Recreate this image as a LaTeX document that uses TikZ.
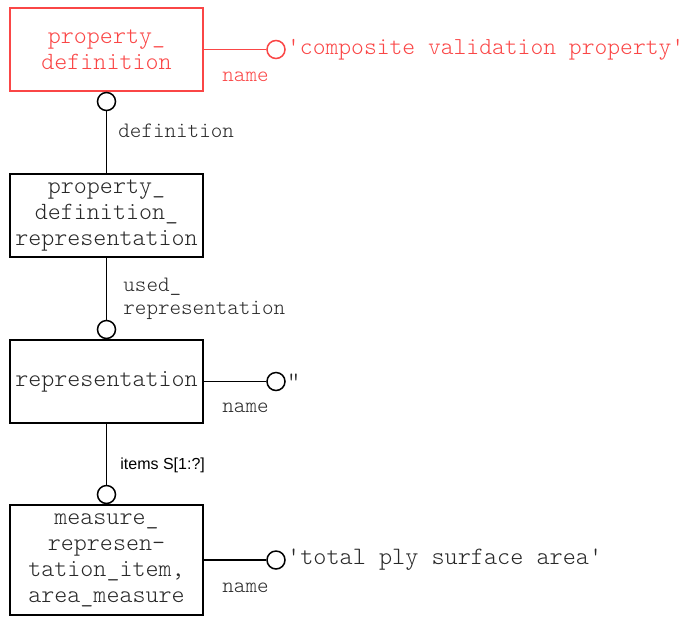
\documentclass[tikz,border=0pt]{standalone}
\usepackage{fontspec}
\newfontfamily\mono{lmmonolt10-regular.otf}[Ligatures=TeXOff]
\newfontfamily\sans{Liberation Sans}
\usepackage{xcolor}
\definecolor{attrred}{RGB}{250,70,70}
\definecolor{inkgray}{RGB}{40,40,40}

\begin{document}
\begin{tikzpicture}[x=0.5pt, y=-0.5pt,
  entity/.style={draw, line width=0.75pt, minimum width=96.5pt, minimum height=41.5pt,
    align=center, inner sep=0pt, text=inkgray, font=\mono\fontsize{12.4}{13}\selectfont},
  port/.style={draw, circle, line width=0.75pt, minimum size=9pt, inner sep=0pt, fill=white},
  value/.style={anchor=west, inner sep=0.5pt, text=inkgray, font=\mono\fontsize{12.5}{13}\selectfont},
  role/.style={anchor=west, inner sep=0pt, align=left, text=inkgray, font=\mono\fontsize{11}{11.5}\selectfont}]
  \useasboundingbox (0,0) rectangle (695,617);

  % Entities
  \node[entity, draw=attrred, text=attrred] (propdef) at (106.5,49.5) {property\_\\definition};
  \node[entity] (propdefrep) at (106.5,215.5) {property\_\\definition\_\\representation};
  \node[entity] (rep) at (106.5,381.5) {representation};
  \node[entity, minimum height=55pt] (measitem) at (106.5,560) {measure\_\\represen-\\tation\_item,\\area\_measure};

  % Relations
  \node[port, anchor=north] (defC) at (propdef.south) {};
  \draw[line width=0.75pt] (defC.south) -- (propdefrep.north);
  \node[role] (defL) at (118,131) {definition};

  \node[port, anchor=south] (usedC) at (rep.north) {};
  \draw[line width=0.75pt] (propdefrep.south) -- (usedC.north);
  \node[role] (usedL) at (123,298.5) {used\_\\representation};

  \node[port, anchor=south] (itemsC) at (measitem.north) {};
  \draw[line width=0.75pt] (rep.south) -- (itemsC.north);
  \node[anchor=west, inner sep=0pt, font=\sans\fontsize{8}{10}\selectfont] (itemsL) at (120,465) {items S[1:?]};

  % Attributes
  \node[port, draw=attrred] (nameC1) at (276,49.5) {};
  \draw[attrred, line width=0.75pt] (propdef.east) -- (nameC1.west);
  \node[value, text=attrred, font=\mono\fontsize{12.2}{13}\selectfont] (nameV1) at (nameC1.east) {'composite validation property'};
  \node[role, text=attrred] (nameL1) at (222,77) {name};

  \node[port] (nameC2) at (276,381.5) {};
  \draw[line width=0.75pt] (rep.east) -- (nameC2.west);
  \node[value] (nameV2) at (nameC2.east) {"};
  \node[role] (nameL2) at (222,408) {name};

  \node[port] (nameC3) at (276,560) {};
  \draw[line width=0.75pt] (measitem.east) -- (nameC3.west);
  \node[value] (nameV3) at (nameC3.east) {'total ply surface area'};
  \node[role] (nameL3) at (222,588) {name};
\end{tikzpicture}
\end{document}
